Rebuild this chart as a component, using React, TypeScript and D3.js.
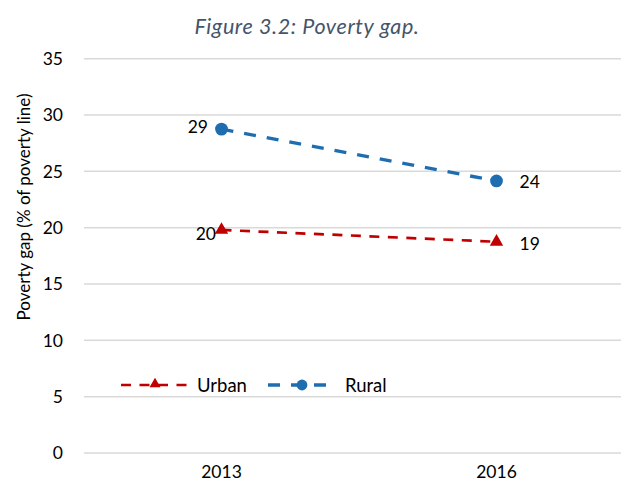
import * as d3 from 'd3';

const years = ['2013', '2016'];
const urban = [19.8, 18.75];
const rural = [28.75, 24.15];
const urbanLabels = ['20', '19'];
const ruralLabels = ['29', '24'];
const yTicks = [0, 5, 10, 15, 20, 25, 30, 35];

const width = 621;
const height = 489;
const font = 'Lato, "Open Sans", sans-serif';

export default function App() {
  const left = 84;
  const plotRight = 634; // plot runs past the right edge in the source image
  const x = d3.scaleBand().domain(years).range([left, plotRight]);
  const y = d3.scaleLinear().domain([0, 35]).range([453, 58.7]);
  const cx = (yr: string) => (x(yr) || 0) + x.bandwidth() / 2;

  const line = d3
    .line<number>()
    .x((_, i) => cx(years[i]))
    .y((d) => y(d));

  const tri = d3.symbol().type(d3.symbolTriangle).size(78);
  const triSmall = d3.symbol().type(d3.symbolTriangle).size(52);

  const red = '#c00000';
  const blue = '#1f6db1';
  const fs = 17.5;

  return (
    <svg
      width={width}
      height={height}
      style={{ position: 'absolute', left: 0, top: 0, background: '#fff' }}
    >
      <text
        x={307}
        y={34}
        textAnchor="middle"
        fontFamily={font}
        fontStyle="italic"
        fontSize={21.5}
        letterSpacing={0.6}
        fill="#44546a"
      >
        Figure 3.2: Poverty gap.
      </text>

      {yTicks.map((t) => (
        <g key={t}>
          <line x1={left} x2={width} y1={y(t)} y2={y(t)} stroke="#d9d9d9" strokeWidth={1.5} />
          <text x={63} y={y(t) + 6.3} textAnchor="end" fontFamily={font} fontSize={fs} fill="#000">
            {t}
          </text>
        </g>
      ))}

      <text
        transform="translate(30,207) rotate(-90)"
        textAnchor="middle"
        fontFamily={font}
        fontSize={17}
        fill="#000"
      >
        Poverty gap (% of poverty line)
      </text>

      {years.map((yr) => (
        <text key={yr} x={cx(yr)} y={478} textAnchor="middle" fontFamily={font} fontSize={fs} fill="#000">
          {yr}
        </text>
      ))}

      {/* Urban series */}
      <path d={line(urban) || ''} fill="none" stroke={red} strokeWidth={2.7} strokeDasharray="10,8.5" />
      {urban.map((v, i) => (
        <path key={i} d={tri() || ''} transform={`translate(${cx(years[i])},${y(v)})`} fill={red} />
      ))}

      {/* Rural series */}
      <path d={line(rural) || ''} fill="none" stroke={blue} strokeWidth={3.4} strokeDasharray="12,11" />
      {rural.map((v, i) => (
        <circle key={i} cx={cx(years[i])} cy={y(v)} r={6.4} fill={blue} />
      ))}

      {/* data labels */}
      <text x={208} y={y(rural[0]) + 4} textAnchor="end" fontFamily={font} fontSize={fs}>
        {ruralLabels[0]}
      </text>
      <text x={cx(years[1]) + 23} y={y(rural[1]) + 6.6} fontFamily={font} fontSize={fs}>
        {ruralLabels[1]}
      </text>
      <text x={216} y={y(urban[0]) + 10} textAnchor="end" fontFamily={font} fontSize={fs}>
        {urbanLabels[0]}
      </text>
      <text x={cx(years[1]) + 23} y={y(urban[1]) + 8} fontFamily={font} fontSize={fs}>
        {urbanLabels[1]}
      </text>

      {/* legend */}
      <g transform="translate(0,385)">
        <line x1={121} x2={187} y1={0} y2={0} stroke={red} strokeWidth={2.7} strokeDasharray="10,8.5" />
        <path d={triSmall() || ''} transform="translate(155,-1)" fill={red} />
        <text x={197} y={6.7} fontFamily={font} fontSize={18.5}>
          Urban
        </text>
        <line x1={268} x2={328} y1={0} y2={0} stroke={blue} strokeWidth={3.4} strokeDasharray="12,11" />
        <circle cx={302} cy={0} r={5.4} fill={blue} />
        <text x={345} y={6.7} fontFamily={font} fontSize={18.5}>
          Rural
        </text>
      </g>
    </svg>
  );
}
